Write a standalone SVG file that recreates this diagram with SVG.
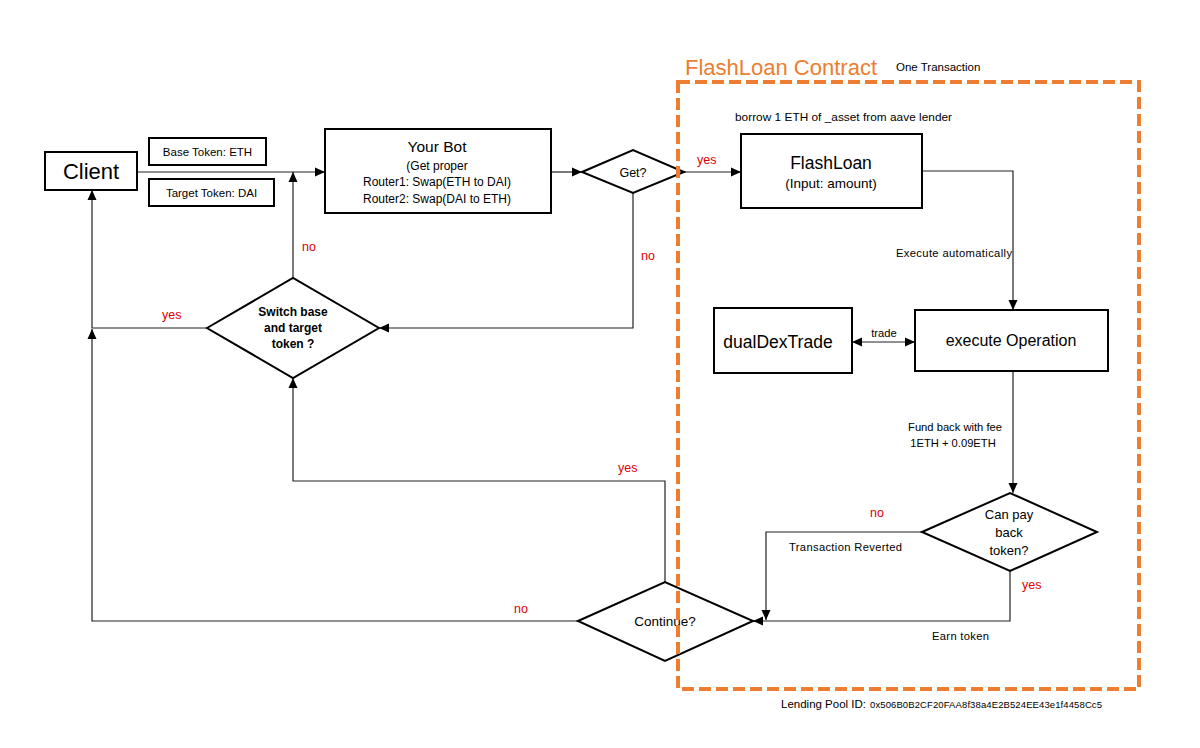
<svg xmlns="http://www.w3.org/2000/svg" width="1200" height="748" viewBox="0 0 1200 748">
<style>
text{font-family:"Liberation Sans",Arial,sans-serif;fill:#000}
.box{fill:#fff;stroke:#000;stroke-width:2}
.dia{fill:#fff;stroke:#000;stroke-width:2}
.c{fill:none;stroke:#222;stroke-width:1.2}
.r{fill:#e00000;font-size:12.5px}
.l{font-size:11.2px}
.m{text-anchor:middle}
</style>
<defs>
<marker id="ah" viewBox="0 0 10 10" refX="10" refY="5" markerWidth="10" markerHeight="10" markerUnits="userSpaceOnUse" orient="auto-start-reverse">
<path d="M0,0.5 L10,5 L0,9.5 Z" fill="#000"/>
</marker>
</defs>
<rect width="1200" height="748" fill="#fff"/>

<g id="connectors">
<path class="c" d="M137,172 H325" marker-end="url(#ah)"/>
<path class="c" d="M551,172 H582" marker-end="url(#ah)"/>
<path class="c" d="M684,172 H741" marker-end="url(#ah)"/>
<path class="c" d="M922,171 H1013 V310" marker-end="url(#ah)"/>
<path class="c" d="M852,342 H915" marker-start="url(#ah)" marker-end="url(#ah)"/>
<path class="c" d="M1013,371 V493" marker-end="url(#ah)"/>
<path class="c" d="M922,532 H766 V620" marker-end="url(#ah)"/>
<path class="c" d="M1010,571 V621 H753" marker-end="url(#ah)"/>
<path class="c" d="M665,582 V481 H293 V378" marker-end="url(#ah)"/>
<path class="c" d="M578,621 H92 V329" marker-end="url(#ah)"/>
<path class="c" d="M207,328 H92 V190" marker-end="url(#ah)"/>
<path class="c" d="M293,278 V172" marker-end="url(#ah)"/>
<path class="c" d="M633,193 V328 H379" marker-end="url(#ah)"/>
<text class="r" x="697" y="164">yes</text>
<text class="r" x="302" y="251">no</text>
<text class="r" x="641" y="260">no</text>
<text class="r" x="162" y="319">yes</text>
<text class="r" x="618" y="472">yes</text>
<text class="r" x="514" y="613">no</text>
<text class="r" x="870" y="517">no</text>
<text class="r" x="1022" y="589">yes</text>
<text class="l" x="896" y="257" textLength="116">Execute automatically</text>
<text class="l m" x="884" y="337">trade</text>
<text class="l m" x="955" y="431">Fund back with fee</text>
<text class="l m" x="953" y="447">1ETH + 0.09ETH</text>
<text class="l" x="789" y="551" textLength="113">Transaction Reverted</text>
<text class="l" x="932" y="640" textLength="57">Earn token</text>
</g>

<g id="client">
<rect class="box" x="45" y="152" width="92" height="38"/>
<text class="m" x="91" y="179" font-size="22">Client</text>
</g>
<g id="base-token">
<rect class="box" x="149" y="138" width="117" height="27" stroke-width="1.5"/>
<text class="m" x="207.5" y="156" font-size="11.5">Base Token: ETH</text>
</g>
<g id="target-token">
<rect class="box" x="149" y="179" width="125" height="27" stroke-width="1.5"/>
<text class="m" x="211.5" y="197" font-size="11.5">Target Token: DAI</text>
</g>
<g id="your-bot">
<rect class="box" x="325" y="129" width="226" height="84"/>
<text class="m" x="437" y="152" font-size="15.5">Your Bot</text>
<text class="m" x="437" y="170" font-size="12">(Get proper</text>
<text class="m" x="437" y="186" font-size="12">Router1: Swap(ETH to DAI)</text>
<text class="m" x="437" y="203" font-size="12">Router2: Swap(DAI to ETH)</text>
</g>
<g id="get">
<polygon class="dia" points="582,172 633,150 684,172 633,193"/>
<text class="m" x="633" y="177" font-size="12.5">Get?</text>
</g>
<g id="switch">
<polygon class="dia" points="207,328 293,278 379,328 293,378"/>
<text class="m" x="293" y="316" font-size="12" font-weight="bold">Switch base</text>
<text class="m" x="293" y="332" font-size="12" font-weight="bold">and target</text>
<text class="m" x="293" y="348" font-size="12" font-weight="bold">token ?</text>
</g>
<g id="flashloan">
<rect class="box" x="741" y="134" width="181" height="74"/>
<text class="m" x="831" y="169" font-size="17.5">FlashLoan</text>
<text class="m" x="831" y="188" font-size="13.5">(Input: amount)</text>
</g>
<g id="dualdextrade">
<rect class="box" x="714" y="308" width="138" height="65"/>
<text class="m" x="778" y="348" font-size="17.5">dualDexTrade</text>
</g>
<g id="execute-operation">
<rect class="box" x="915" y="310" width="193" height="61"/>
<text class="m" x="1011" y="346" font-size="16">execute Operation</text>
</g>
<g id="can-pay">
<polygon class="dia" points="922,532 1010,493 1097,532 1010,571"/>
<text class="m" x="1009" y="519" font-size="13">Can pay</text>
<text class="m" x="1009" y="537" font-size="13">back</text>
<text class="m" x="1009" y="555" font-size="13">token?</text>
</g>
<g id="continue">
<polygon class="dia" points="578,621 665,582 753,621 665,661"/>
<text class="m" x="665" y="626" font-size="13.5">Continue?</text>
</g>

<g id="flashloan-contract">
<rect x="678" y="82" width="461" height="607" fill="none" stroke="#ed7d31" stroke-width="4" stroke-dasharray="12,5"/>
<text x="685" y="75" font-size="22" style="fill:#ed7d31">FlashLoan Contract</text>
<text x="896" y="71" font-size="11.5">One Transaction</text>
<text x="735" y="121" font-size="11.8" textLength="217">borrow 1 ETH of _asset from aave lender</text>
<text x="781" y="708" font-size="11.5">Lending Pool ID: </text>
<text x="870" y="708" font-size="9.5" textLength="232">0x506B0B2CF20FAA8f38a4E2B524EE43e1f4458Cc5</text>
</g>
</svg>
